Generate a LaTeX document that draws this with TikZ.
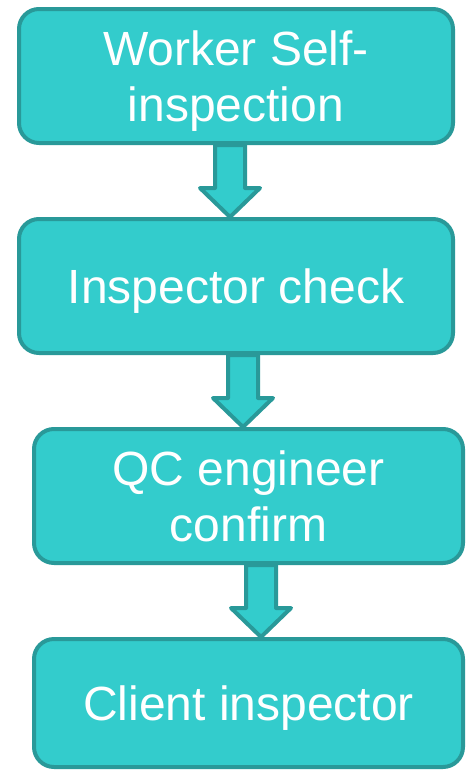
\documentclass[tikz,border=0pt]{standalone}
\usepackage{fontspec}
\setmainfont{Liberation Sans}
\usetikzlibrary{calc}
\definecolor{tealfill}{RGB}{51,204,204}
\definecolor{tealdark}{RGB}{41,153,153}
\tikzset{
  stage/.style={draw=tealdark, line width=4pt, fill=tealfill, rounded corners=20pt,
    text=white, align=center, font=\fontsize{48}{56}\selectfont,
    text depth=0pt, minimum height=134pt, inner sep=0pt},
  flow/.style={draw=tealdark, line width=4pt, fill=tealfill, line join=round}
}
% block arrow from one stage down to the next, shifted sideways by #3
\newcommand{\flowarrow}[3]{%
  \draw[flow] let \p1=($(#1.south)+(#3,0)$), \p2=($(#2.north)+(#3,0)$) in
    (\x1-15pt,\y1) -- (\x1-15pt,\y2+29pt) -- (\x1-30pt,\y2+29pt) -- (\x1,\y2)
    -- (\x1+30pt,\y2+29pt) -- (\x1+15pt,\y2+29pt) -- (\x1+15pt,\y1) -- cycle;}
\begin{document}
\begin{tikzpicture}[x=1pt, y=-1pt]
    \useasboundingbox (0,0) rectangle (466,774);
    \node[stage, minimum width=434pt] (worker) at (236,76) {Worker Self-\\inspection};
    \node[stage, minimum width=434pt] (inspector) at (236,286) {Inspector check};
    \node[stage, minimum width=429pt] (qc) at (248.5,496) {QC engineer\\confirm};
    \node[stage, minimum width=429pt, minimum height=128pt] (client) at (248.5,703) {Client inspector};
    \flowarrow{worker}{inspector}{-6}
    \flowarrow{inspector}{qc}{7}
    \flowarrow{qc}{client}{12.5}
\end{tikzpicture}
\end{document}
